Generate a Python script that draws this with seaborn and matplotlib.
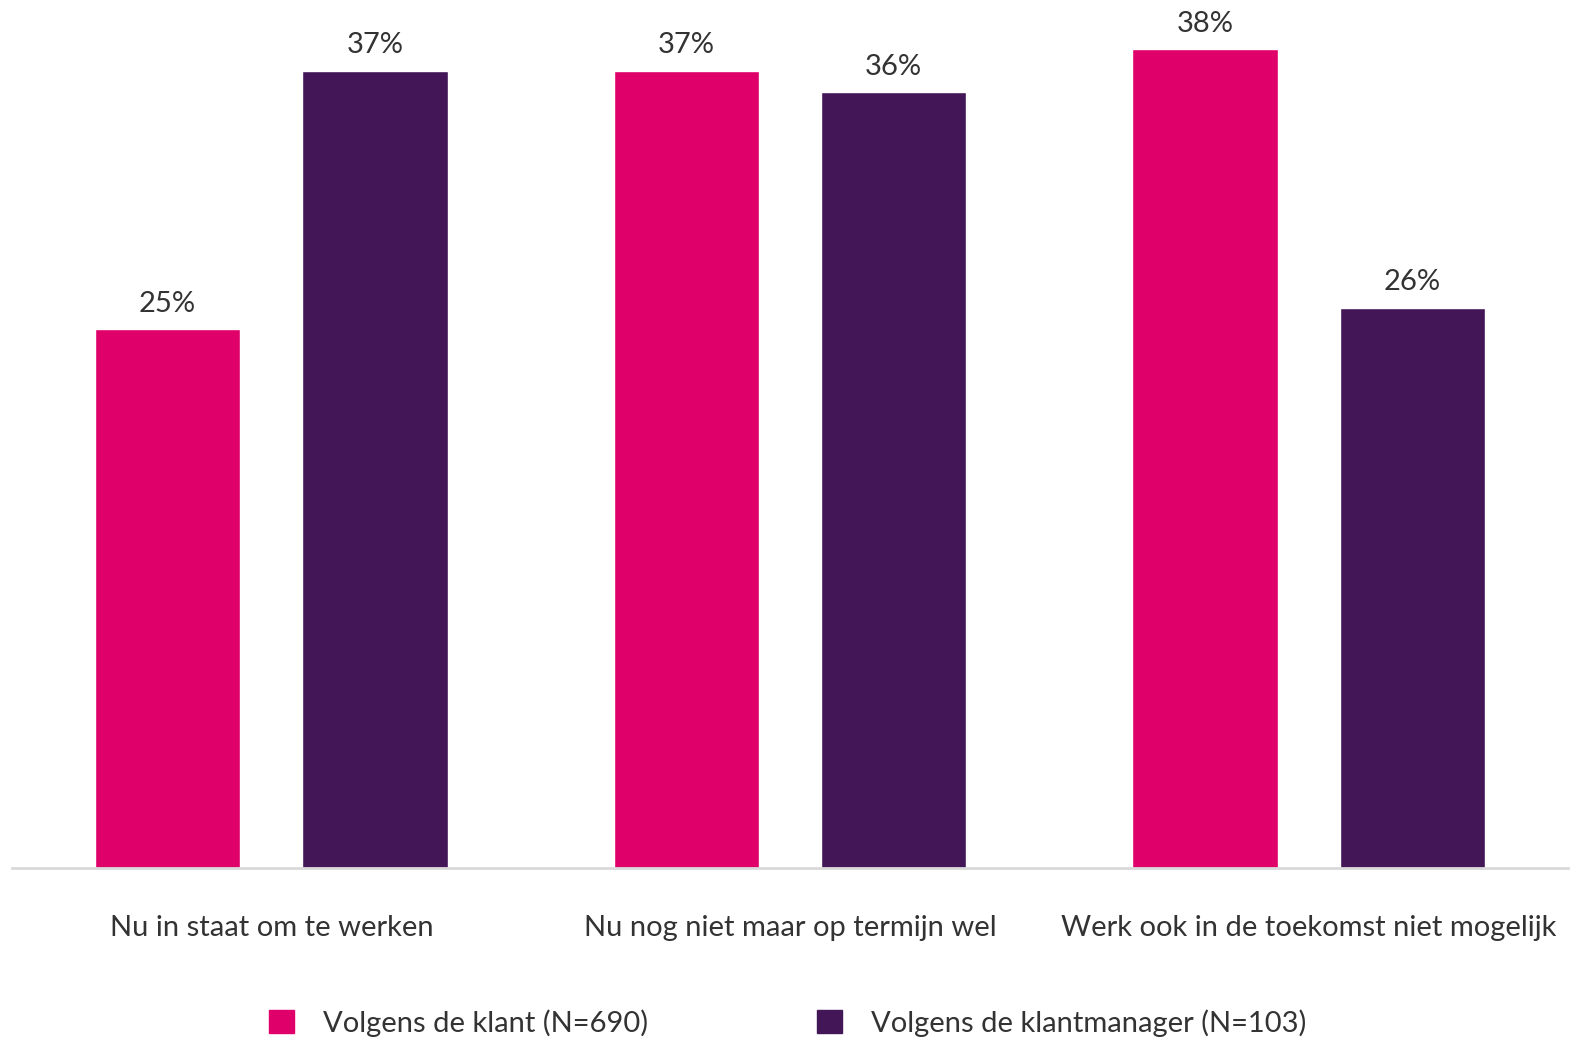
import seaborn as sns
import pandas as pd
import matplotlib.pyplot as plt

categories = ['Nu in staat om te werken', 'Nu nog niet maar op termijn wel',
              'Werk ook in de toekomst niet mogelijk']
series = ['Volgens de klant (N=690)', 'Volgens de klantmanager (N=103)']
klant = [25, 37, 38]
klantmanager = [37, 36, 26]
colors = ['#E0006A', '#431757']

df = pd.DataFrame({
    'categorie': categories * 2,
    'groep': [series[0]] * 3 + [series[1]] * 3,
    'pct': klant + klantmanager,
})

sns.set_style('white')
plt.rcParams['font.family'] = ['Lato', 'DejaVu Sans']
text_color = '#333333'
fsize = 21

fig = plt.figure(figsize=(15.76, 10.43), dpi=100)
ax = fig.add_axes([12 / 1576, 175 / 1043, 1556 / 1576, 862 / 1043])

sns.barplot(data=df, x='categorie', y='pct', hue='groep', order=categories,
            hue_order=series, palette=colors, width=0.8, gap=0.3,
            saturation=1, ax=ax, legend=False)

for cont in ax.containers:
    ax.bar_label(cont, labels=[f'{v:.0f}%' for v in cont.datavalues],
                 padding=9, fontsize=fsize, color=text_color)

ax.set_xlim(-0.5, 2.5)
ax.set_ylim(0, 40)
ax.set_xlabel('')
ax.set_ylabel('')
ax.set_yticks([])
for s in ['left', 'right', 'top']:
    ax.spines[s].set_visible(False)
ax.spines['bottom'].set_color('#d9d9d9')
ax.spines['bottom'].set_linewidth(2)
ax.tick_params(axis='x', length=0, pad=34, labelsize=fsize, labelcolor=text_color)

handles = [plt.Rectangle((0, 0), 1, 1, color=c) for c in colors]
fig.legend(handles, series, loc='center', bbox_to_anchor=(0.5, 1 - 1023 / 1043),
           ncol=2, frameon=False, fontsize=fsize, labelcolor=text_color,
           handlelength=0.85, handleheight=0.85, handletextpad=1.0, columnspacing=5.8)

plt.savefig('out.png', dpi=100)
